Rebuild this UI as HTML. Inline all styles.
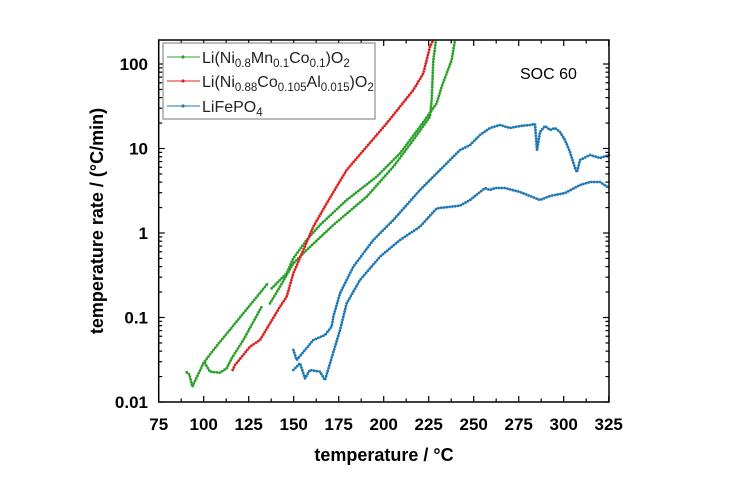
<!DOCTYPE html>
<html><head><meta charset="utf-8"><style>
body{margin:0;background:#fff;width:741px;height:486px;overflow:hidden}
svg{font-family:"Liberation Sans",Arial,sans-serif}
</style></head><body>
<svg id="s" width="741" height="486" viewBox="0 0 741 486" xmlns="http://www.w3.org/2000/svg">
<g id="data"></g>
<rect x="158.7" y="40" width="450.3" height="362" fill="none" stroke="#000" stroke-width="1.5"/>
<g id="ticks" stroke="#000" stroke-width="1.2"></g>
<g font-size="17" font-weight="bold" text-anchor="end">
<text x="148" y="408">0.01</text><text x="148" y="323.5">0.1</text><text x="148" y="239">1</text><text x="148" y="154.5">10</text><text x="148" y="70">100</text>
</g>
<g id="xl" font-size="17" font-weight="bold" text-anchor="middle"></g>
<text x="384" y="461" font-size="18" font-weight="bold" text-anchor="middle">temperature / °C</text>
<text transform="translate(103,221) rotate(-90)" font-size="18" font-weight="bold" text-anchor="middle">temperature rate / (°C/min)</text>
<text x="520" y="79" font-size="16">SOC 60</text>
<rect x="163" y="43" width="212" height="76" fill="#fff" stroke="#777" stroke-width="1"/>
<g stroke-width="1"><line x1="167" y1="57" x2="200" y2="57" stroke="#2ca02c"/><line x1="167" y1="81" x2="200" y2="81" stroke="#e02020"/><line x1="167" y1="106" x2="200" y2="106" stroke="#1f77b4"/></g>
<circle cx="183" cy="57" r="1.6" fill="#2ca02c"/><circle cx="183" cy="81" r="1.6" fill="#e02020"/><circle cx="183" cy="106" r="1.6" fill="#1f77b4"/>
<g font-size="16" fill="#222">
<text x="202" y="63">Li(Ni<tspan font-size="11.5" dy="4">0.8</tspan><tspan dy="-4">Mn</tspan><tspan font-size="11.5" dy="4">0.1</tspan><tspan dy="-4">Co</tspan><tspan font-size="11.5" dy="4">0.1</tspan><tspan dy="-4">)O</tspan><tspan font-size="11.5" dy="4">2</tspan></text>
<text x="202" y="87">Li(Ni<tspan font-size="11.5" dy="4">0.88</tspan><tspan dy="-4">Co</tspan><tspan font-size="11.5" dy="4">0.105</tspan><tspan dy="-4">Al</tspan><tspan font-size="11.5" dy="4">0.015</tspan><tspan dy="-4">)O</tspan><tspan font-size="11.5" dy="4">2</tspan></text>
<text x="202" y="112">LiFePO<tspan font-size="11.5" dy="4">4</tspan></text>
</g>
</svg>
<script>
var NS="http://www.w3.org/2000/svg",s=document.getElementById('s');
var tk=document.getElementById('ticks'),xl=document.getElementById('xl'),dg=document.getElementById('data');
function ln(g,a,b,c,d){var l=document.createElementNS(NS,'line');l.setAttribute('x1',a);l.setAttribute('y1',b);l.setAttribute('x2',c);l.setAttribute('y2',d);g.appendChild(l);}
for(var t=75;t<=325;t+=12.5){var x=158.7+(t-75)*1.8,m=(t%25==0);var L=m?6:3.5;ln(tk,x,402,x,402-L);ln(tk,x,40,x,40+L);
 if(m){var e=document.createElementNS(NS,'text');e.setAttribute('x',x);e.setAttribute('y',430);e.textContent=t;xl.appendChild(e);}}
for(var d=-2;d<=2.3;d++){for(var k=1;k<10;k++){var y=402-(d+2+Math.log10(k))*84.5;if(y<40)break;var L=k==1?6:3.5;ln(tk,158.7,y,158.7+L,y);ln(tk,609,y,609-L,y);}}
function ser(pts,col){var p=pts.map(function(q){return [160+q[0]/3,40+q[1]/3];});
 var str=p.map(function(q){return q.join(',')}).join(' ');
 var pl=document.createElementNS(NS,'polyline');pl.setAttribute('points',str);pl.setAttribute('fill','none');pl.setAttribute('stroke',col);pl.setAttribute('stroke-width','0.7');dg.appendChild(pl);
 var pd=document.createElementNS(NS,'polyline');pd.setAttribute('points',str);pd.setAttribute('fill','none');pd.setAttribute('stroke',col);pd.setAttribute('stroke-width','2.8');pd.setAttribute('stroke-linecap','round');pd.setAttribute('stroke-dasharray','0 2.8');dg.appendChild(pd);}
function px(a){return a.map(function(q){return [(q[0]-160)*3,(q[1]-40)*3];});}
var G='#2ca02c',R='#e02020',B='#1f77b4';
ser([[80,997],[88,1003],[97,1040],[130,970],[160,930],[250,820],[325,728]],G);
ser([[335,745],[380,700],[400,655],[440,600],[480,555],[560,480],[650,410],[720,340],[780,260],[830,190],[845,140],[860,100],[875,60],[885,0]],G);
ser([[135,970],[150,995],[180,998],[200,985],[215,955],[250,900],[305,800]],G);
ser([[330,790],[360,740],[400,670],[440,630],[520,555],[620,470],[700,380],[760,300],[810,230],[815,180],[820,60],[828,0]],G);
ser([[218,990],[225,975],[270,920],[300,900],[330,850],[360,800],[380,770],[400,700],[430,630],[460,560],[500,490],[560,390],[620,320],[680,250],[720,200],[760,150],[790,100],[800,60],[810,20],[820,0]],R);
ser([[400,930],[410,960],[460,900],[495,885],[515,860],[520,830],[540,760],[580,680],[640,600],[700,540],[780,450],[840,390],[900,330]].concat(px([[470,145],[480,135],[490,128],[500,125],[510,128],[520,126],[530,125],[535,124],[537,150],[540,132],[545,126],[550,130],[555,128],[560,132],[565,140],[570,152],[575,168],[577,172],[580,160],[590,155],[600,158],[609,155]])),B);
ser([[400,990],[420,970],[435,1015],[450,990],[480,995],[495,1020],[540,870],[560,790],[600,720],[660,650],[720,600],[780,560],[830,505],[900,497]].concat(px([[470,200],[480,192],[485,188],[490,190],[495,188],[505,188],[520,192],[535,198],[540,200],[550,196],[565,193],[580,185],[590,182],[600,182],[609,188]])),B);
</script>
</body></html>
